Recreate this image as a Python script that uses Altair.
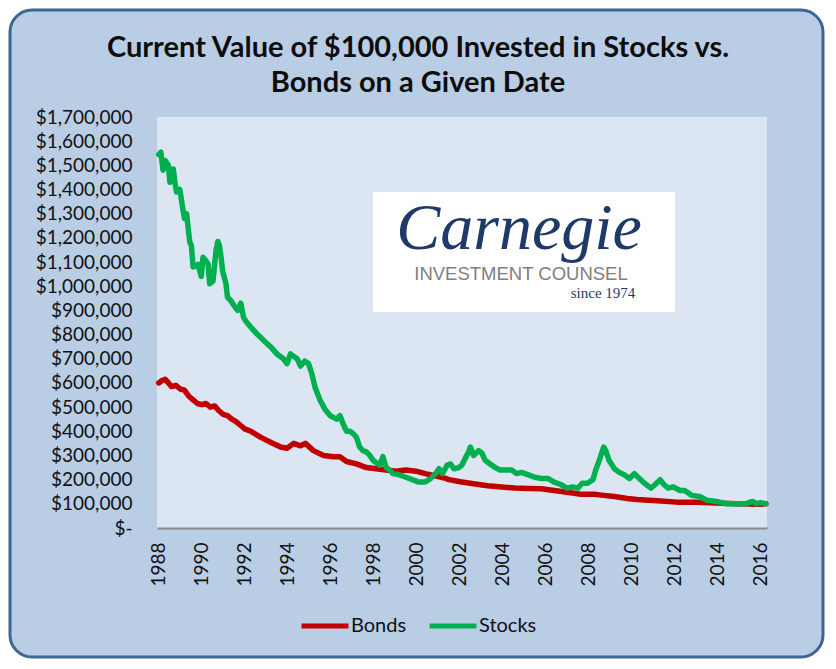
import altair as alt
import pandas as pd

# ---------------- data ----------------
series_names = ["Bonds", "Stocks"]
series_colors = ["#C00000", "#00B050"]

stock_years = [
    1988.00, 1988.10, 1988.20, 1988.30, 1988.45, 1988.52, 1988.68, 1988.75, 1988.83, 1988.98,
    1989.14, 1989.20, 1989.30, 1989.37, 1989.45, 1989.52, 1989.60, 1989.75, 1989.83, 1989.98,
    1990.06, 1990.20, 1990.30, 1990.37, 1990.52, 1990.67, 1990.75, 1990.82, 1990.90, 1990.98,
    1991.13, 1991.20, 1991.36, 1991.50, 1991.67, 1991.82, 1991.95, 1992.10, 1992.29, 1992.60,
    1992.90, 1993.20, 1993.50, 1993.80, 1993.97, 1994.13, 1994.28, 1994.44, 1994.60, 1994.80,
    1994.97, 1995.12, 1995.28, 1995.50, 1995.74, 1995.97, 1996.28, 1996.43, 1996.58, 1996.74,
    1996.90, 1997.05, 1997.20, 1997.35, 1997.50, 1997.66, 1997.82, 1997.97, 1998.12, 1998.28,
    1998.43, 1998.58, 1998.74, 1998.90, 1999.20, 1999.50, 1999.80, 2000.10, 2000.40, 2000.65,
    2000.89, 2001.04, 2001.20, 2001.42, 2001.58, 2001.73, 2001.96, 2002.10, 2002.27, 2002.42,
    2002.50, 2002.65, 2002.88, 2003.03, 2003.19, 2003.42, 2003.65, 2003.88, 2004.19, 2004.42,
    2004.65, 2004.88, 2005.20, 2005.50, 2005.80, 2006.10, 2006.40, 2006.70, 2007.00, 2007.26,
    2007.50, 2007.70, 2007.95, 2008.20, 2008.33, 2008.50, 2008.70, 2008.80, 2008.95, 2009.20,
    2009.43, 2009.66, 2009.90, 2010.13, 2010.36, 2010.60, 2010.90, 2011.10, 2011.33, 2011.50,
    2011.70, 2011.94, 2012.25, 2012.47, 2012.80, 2013.17, 2013.50, 2013.96, 2014.40, 2014.87,
    2015.30, 2015.63, 2015.80, 2016.00, 2016.25,
]
stock_values = [
    1545000, 1555000, 1480000, 1520000, 1500000, 1430000, 1485000, 1430000, 1390000, 1400000,
    1310000, 1280000, 1300000, 1240000, 1180000, 1170000, 1080000, 1085000, 1090000, 1040000,
    1120000, 1105000, 1090000, 1010000, 1020000, 1150000, 1185000, 1170000, 1120000, 1060000,
    1010000, 955000, 940000, 920000, 900000, 930000, 870000, 850000, 830000, 800000,
    775000, 750000, 720000, 700000, 680000, 720000, 710000, 700000, 670000, 690000,
    680000, 640000, 580000, 530000, 490000, 465000, 450000, 465000, 430000, 400000,
    400000, 390000, 375000, 335000, 320000, 315000, 300000, 280000, 270000, 260000,
    295000, 250000, 240000, 225000, 220000, 210000, 200000, 190000, 190000, 205000,
    225000, 245000, 225000, 260000, 265000, 245000, 250000, 260000, 290000, 315000,
    335000, 300000, 320000, 310000, 280000, 265000, 250000, 240000, 240000, 240000,
    225000, 230000, 220000, 210000, 205000, 205000, 190000, 180000, 165000, 170000,
    165000, 185000, 185000, 200000, 240000, 280000, 335000, 320000, 280000, 245000,
    230000, 220000, 205000, 225000, 205000, 185000, 165000, 180000, 200000, 180000,
    165000, 170000, 155000, 155000, 135000, 130000, 115000, 110000, 100000, 100000,
    100000, 110000, 100000, 105000, 100000,
]

bond_years = [
    1988.00, 1988.15, 1988.30, 1988.45, 1988.60, 1988.80, 1989.00, 1989.20, 1989.40, 1989.60,
    1989.80, 1990.00, 1990.20, 1990.40, 1990.60, 1990.80, 1991.00, 1991.20, 1991.40, 1991.60,
    1991.80, 1992.00, 1992.29, 1992.75, 1993.20, 1993.67, 1993.97, 1994.28, 1994.60, 1994.82,
    1995.20, 1995.67, 1996.13, 1996.43, 1996.74, 1997.20, 1997.66, 1998.12, 1998.58, 1999.04,
    1999.50, 1999.97, 2000.40, 2000.90, 2001.35, 2001.50, 2002.10, 2002.88, 2003.30, 2003.96,
    2004.57, 2005.20, 2005.80, 2006.40, 2007.00, 2007.65, 2008.26, 2008.70, 2009.20, 2009.80,
    2010.25, 2011.20, 2012.10, 2013.00, 2013.96, 2014.87, 2015.94, 2016.25,
]
bond_values = [
    600000, 610000, 615000, 600000, 585000, 590000, 575000, 570000, 545000, 530000,
    515000, 510000, 515000, 500000, 505000, 485000, 470000, 465000, 450000, 440000,
    425000, 410000, 400000, 375000, 355000, 335000, 330000, 350000, 340000, 350000,
    320000, 300000, 295000, 295000, 275000, 265000, 250000, 245000, 240000, 235000,
    240000, 235000, 225000, 215000, 205000, 200000, 190000, 180000, 175000, 170000,
    165000, 163000, 162000, 155000, 148000, 140000, 140000, 135000, 130000, 122000,
    118000, 113000, 107000, 106000, 103000, 100000, 98000, 100000,
]

x_ticks = [1988, 1990, 1992, 1994, 1996, 1998, 2000, 2002, 2004, 2006, 2008, 2010, 2012, 2014, 2016]
y_ticks = [0, 100000, 200000, 300000, 400000, 500000, 600000, 700000, 800000, 900000,
           1000000, 1100000, 1200000, 1300000, 1400000, 1500000, 1600000, 1700000]

title_lines = ["Current Value of $100,000 Invested in Stocks vs.", "Bonds on a Given Date"]
logo_name = "Carnegie"
logo_sub = "INVESTMENT COUNSEL"
logo_since = "since 1974"

# ---------------- table ----------------
df = pd.concat([
    pd.DataFrame({"year": bond_years, "value": bond_values, "series": "Bonds"}),
    pd.DataFrame({"year": stock_years, "value": stock_values, "series": "Stocks"}),
], ignore_index=True)

W, H = 610, 411
FONT = "Lato"
one = alt.Data(values=[{}])

frame = alt.Chart(one).mark_rect(
    cornerRadius=22, fill="#B9CDE5", stroke="#3E6596", strokeWidth=3
).encode(x=alt.value(-147), x2=alt.value(666), y=alt.value(-107), y2=alt.value(540))

plot_bg = alt.Chart(one).mark_rect(fill="#DCE6F2").encode(
    x=alt.value(0), x2=alt.value(W), y=alt.value(0), y2=alt.value(H)
)

logo_box = alt.Chart(one).mark_rect(fill="white").encode(
    x=alt.value(216), x2=alt.value(518), y=alt.value(75), y2=alt.value(195)
)
logo_t1 = alt.Chart(one).mark_text(
    font="Liberation Serif", fontStyle="italic", fontSize=66, color="#1F3A68",
    align="center", baseline="alphabetic"
).encode(x=alt.value(362), y=alt.value(132), text=alt.value(logo_name))
logo_t2 = alt.Chart(one).mark_text(
    font="Liberation Sans", fontSize=18.5, color="#808080", align="center", baseline="alphabetic"
).encode(x=alt.value(364), y=alt.value(163), text=alt.value(logo_sub))
logo_t3 = alt.Chart(one).mark_text(
    font="Liberation Serif", fontSize=15, color="#1F3A68", align="center", baseline="alphabetic"
).encode(x=alt.value(446), y=alt.value(181), text=alt.value(logo_since))

lines = alt.Chart(df).mark_line(strokeWidth=5.5, strokeJoin="round", strokeCap="round").encode(
    x=alt.X("year:Q",
            scale=alt.Scale(domain=[1987.92, 2016.3], nice=False, zero=False),
            axis=alt.Axis(values=x_ticks, format="d", labelAngle=-90, ticks=False,
                          labelPadding=14, domainColor="#8A8A8A", domainWidth=2,
                          grid=False, zindex=1, title=None, labelFlush=False,
                          labelOverlap=False, labelBound=False)),
    y=alt.Y("value:Q",
            scale=alt.Scale(domain=[0, 1700000], nice=False),
            axis=alt.Axis(values=y_ticks,
                          labelExpr="datum.value == 0 ? '$-' : '$' + format(datum.value, ',')",
                          ticks=False, domain=False, grid=False, labelPadding=25,
                          zindex=1, title=None, labelFlush=False, labelOverlap=False)),
    color=alt.Color("series:N",
                    scale=alt.Scale(domain=series_names, range=series_colors),
                    legend=alt.Legend(orient="none", legendX=142, legendY=483,
                                      direction="horizontal", title=None,
                                      symbolType="stroke", symbolSize=2200,
                                      symbolStrokeWidth=5, labelFontSize=20,
                                      labelFont=FONT, labelColor="#111111",
                                      columnPadding=12, labelOffset=0, zindex=1)),
    detail="series:N",
)

chart = alt.layer(frame, plot_bg, logo_box, logo_t1, logo_t2, logo_t3, lines).properties(
    width=W, height=H,
    autosize=alt.AutoSizeParams(type="none"),
    padding={"left": 149, "top": 109, "right": 61, "bottom": 131},
    background="white",
    title=alt.Title(text=title_lines, font=FONT, fontSize=29, fontWeight="bold",
                    lineHeight=35, anchor="middle", frame="group", dx=-44, offset=-118,
                    baseline="bottom", color="#0D0D0D", zindex=1),
).configure_view(strokeWidth=0).configure_axis(
    labelFont=FONT, labelFontSize=19, labelColor="#111111"
)

chart.save("out.html", embed_options={"renderer": "svg", "actions": False})
